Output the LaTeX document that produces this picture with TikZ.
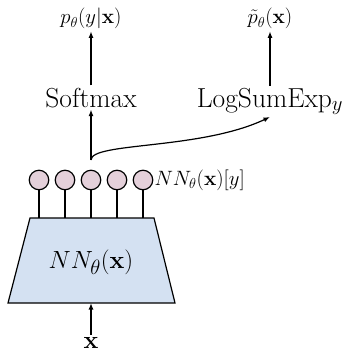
\documentclass[tikz,border=0pt]{standalone}
\usetikzlibrary{arrows.meta}
\definecolor{unitfill}{RGB}{228,208,218}
\definecolor{netfill}{RGB}{212,225,242}
\tikzset{
  conn/.style={line width=1.2pt,-{Latex[length=6.5pt,width=5pt]}},
  stem/.style={line width=1.2pt},
  unit/.style={circle,draw,line width=1.2pt,fill=unitfill,minimum size=19.5pt,inner sep=0pt},
  bigtxt/.style={font=\fontsize{27.5}{32}\selectfont,inner sep=2pt},
  smalltxt/.style={font=\fontsize{21.5}{26}\selectfont,inner sep=2pt}
}
\begin{document}
\begin{tikzpicture}[x=1pt,y=-1pt]
\useasboundingbox (0,0) rectangle (342,353);
% trapezoid network
\coordinate (tl) at (30,218);
\coordinate (tr) at (154,218);
\coordinate (br) at (175,303);
\coordinate (bl) at (8,303);
\coordinate (nb) at (91,303);
\draw[line width=1.2pt,fill=netfill] (tl) -- (tr) -- (br) -- (bl) -- cycle;
\node[bigtxt] (net) at (91,262) {$NN_\theta(\mathbf{x})$};
% input
\node[bigtxt,anchor=base,inner sep=0.5pt] (x) at (91,348.5) {$\mathbf{x}$};
\draw[conn] (x.north) ++(0,-2) -- (nb);
% output units
\foreach \i/\xx in {1/39,2/65,3/91,4/117,5/143}{
  \node[unit] (c\i) at (\xx,180) {};
  \coordinate (t\i) at (\xx,218);
  \draw[stem] (c\i.south) -- (t\i);
}
\node[smalltxt,anchor=west,inner sep=1pt] (lab) at (c5.east) {$NN_\theta(\mathbf{x})[y]$};
% heads
\node[bigtxt,anchor=base] (soft) at (91,107) {Softmax};
\node[bigtxt,anchor=base] (lse) at (270,107) {LogSumExp$_y$};
\node[smalltxt,anchor=base] (py) at (91,24) {$p_\theta(y|\mathbf{x})$};
\node[smalltxt,anchor=base] (pt) at (270,24) {$\tilde{p}_\theta(\mathbf{x})$};
\coordinate (split) at (91,160);
\draw[conn] (split) -- (soft.south);
\draw[conn] (split) .. controls (91,142) and (200,150) .. (lse.south);
\draw[conn] (soft.north) -- (py.south);
\draw[conn] (lse.north) -- (pt.south);
\end{tikzpicture}
\end{document}
